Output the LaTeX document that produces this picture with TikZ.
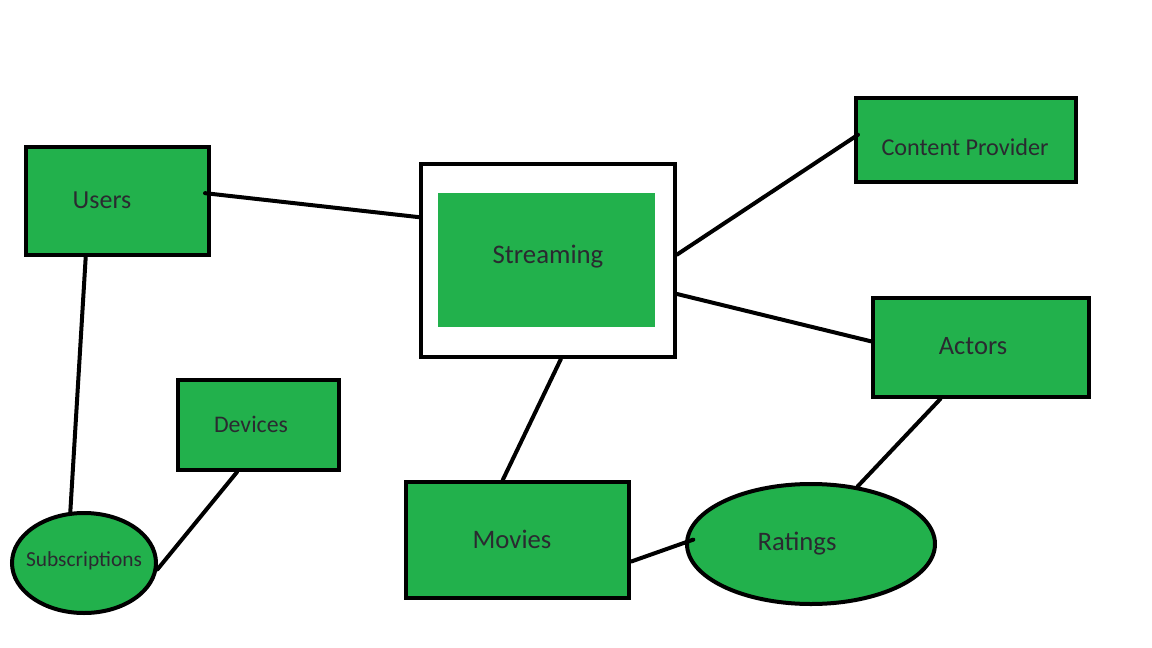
\documentclass[tikz,border=0pt]{standalone}
\usepackage{fontspec}
\setmainfont{Carlito}
\usetikzlibrary{calc,shapes.geometric}
\definecolor{pgreen}{HTML}{22B14C}
\definecolor{ptext}{HTML}{2A2A30}
\tikzset{
  ent/.style={draw=black, line width=4pt, fill=pgreen, rectangle, inner sep=0pt},
  ell/.style={draw=black, line width=4pt, fill=pgreen, ellipse, inner sep=0pt},
  lbl/.style={text=ptext, inner sep=0pt},
  conn/.style={line width=4pt, line cap=round}
}
\newcommand{\fs}[1]{\fontsize{#1}{#1}\selectfont}
\begin{document}
\begin{tikzpicture}[x=1pt,y=-1pt]
\useasboundingbox[fill=white] (0,0) rectangle (1152,648);
% boxes
\node[ent, minimum width=183pt, minimum height=108pt] (users) at (117.5,201) {};
\node[draw=black, line width=4pt, fill=white, rectangle, minimum width=254pt, minimum height=193pt, inner sep=0pt] (stream) at (548,260.5) {};
\node[fill=pgreen, rectangle, minimum width=217pt, minimum height=134pt, inner sep=0pt] (streamin) at (546.5,260) {};
\node[ent, minimum width=220pt, minimum height=84pt] (cp) at (966,140) {};
\node[ent, minimum width=216pt, minimum height=99pt] (actors) at (981,347.5) {};
\node[ent, minimum width=161pt, minimum height=90pt] (devices) at (258.5,425) {};
\node[ent, minimum width=223pt, minimum height=116pt] (movies) at (517.5,540) {};
\node[ell, minimum width=144pt, minimum height=100pt] (subs) at (84,563) {};
\node[ell, minimum width=248pt, minimum height=120pt] (ratings) at (811,544) {};
% labels
\node[lbl, font=\fs{26}] (tusers) at (102,200) {Users};
\node[lbl, font=\fs{26.8}] (tstream) at (548,257) {Streaming};
\node[lbl, font=\fs{24.2}] (tcp) at (965,147) {Content Provider};
\node[lbl, font=\fs{26.5}] (tactors) at (973,346) {Actors};
\node[lbl, font=\fs{23.8}] (tdevices) at (251,424) {Devices};
\node[lbl, font=\fs{26.7}] (tmovies) at (512,539) {Movies};
\node[lbl, font=\fs{21.4}] (tsubs) at (84,561) {Subscriptions};
\node[lbl, font=\fs{26.7}] (tratings) at (797,544) {Ratings};
% connectors
\draw[conn] ($(users.north east)!0.43!(users.south east)+(-6,0)$) -- ($(stream.north west)!0.28!(stream.south west)$);
\draw[conn] ($(users.south west)!0.33!(users.south east)$) -- (subs.105);
\draw[conn] ($(devices.south west)!0.37!(devices.south east)$) -- (subs.-5);
\draw[conn] ($(stream.north east)!0.47!(stream.south east)$) -- ($(cp.north west)!0.44!(cp.south west)+(4,0)$);
\draw[conn] ($(stream.north east)!0.67!(stream.south east)$) -- ($(actors.north west)!0.44!(actors.south west)$);
\draw[conn] ($(stream.south west)!0.55!(stream.south east)$) -- ($(movies.north west)!0.435!(movies.north east)$);
\draw[conn] ($(movies.north east)!0.68!(movies.south east)$) -- ($(ratings.178)+(8,0)$);
\draw[conn] ($(actors.south west)!0.315!(actors.south east)$) -- (ratings.51);
\end{tikzpicture}
\end{document}
